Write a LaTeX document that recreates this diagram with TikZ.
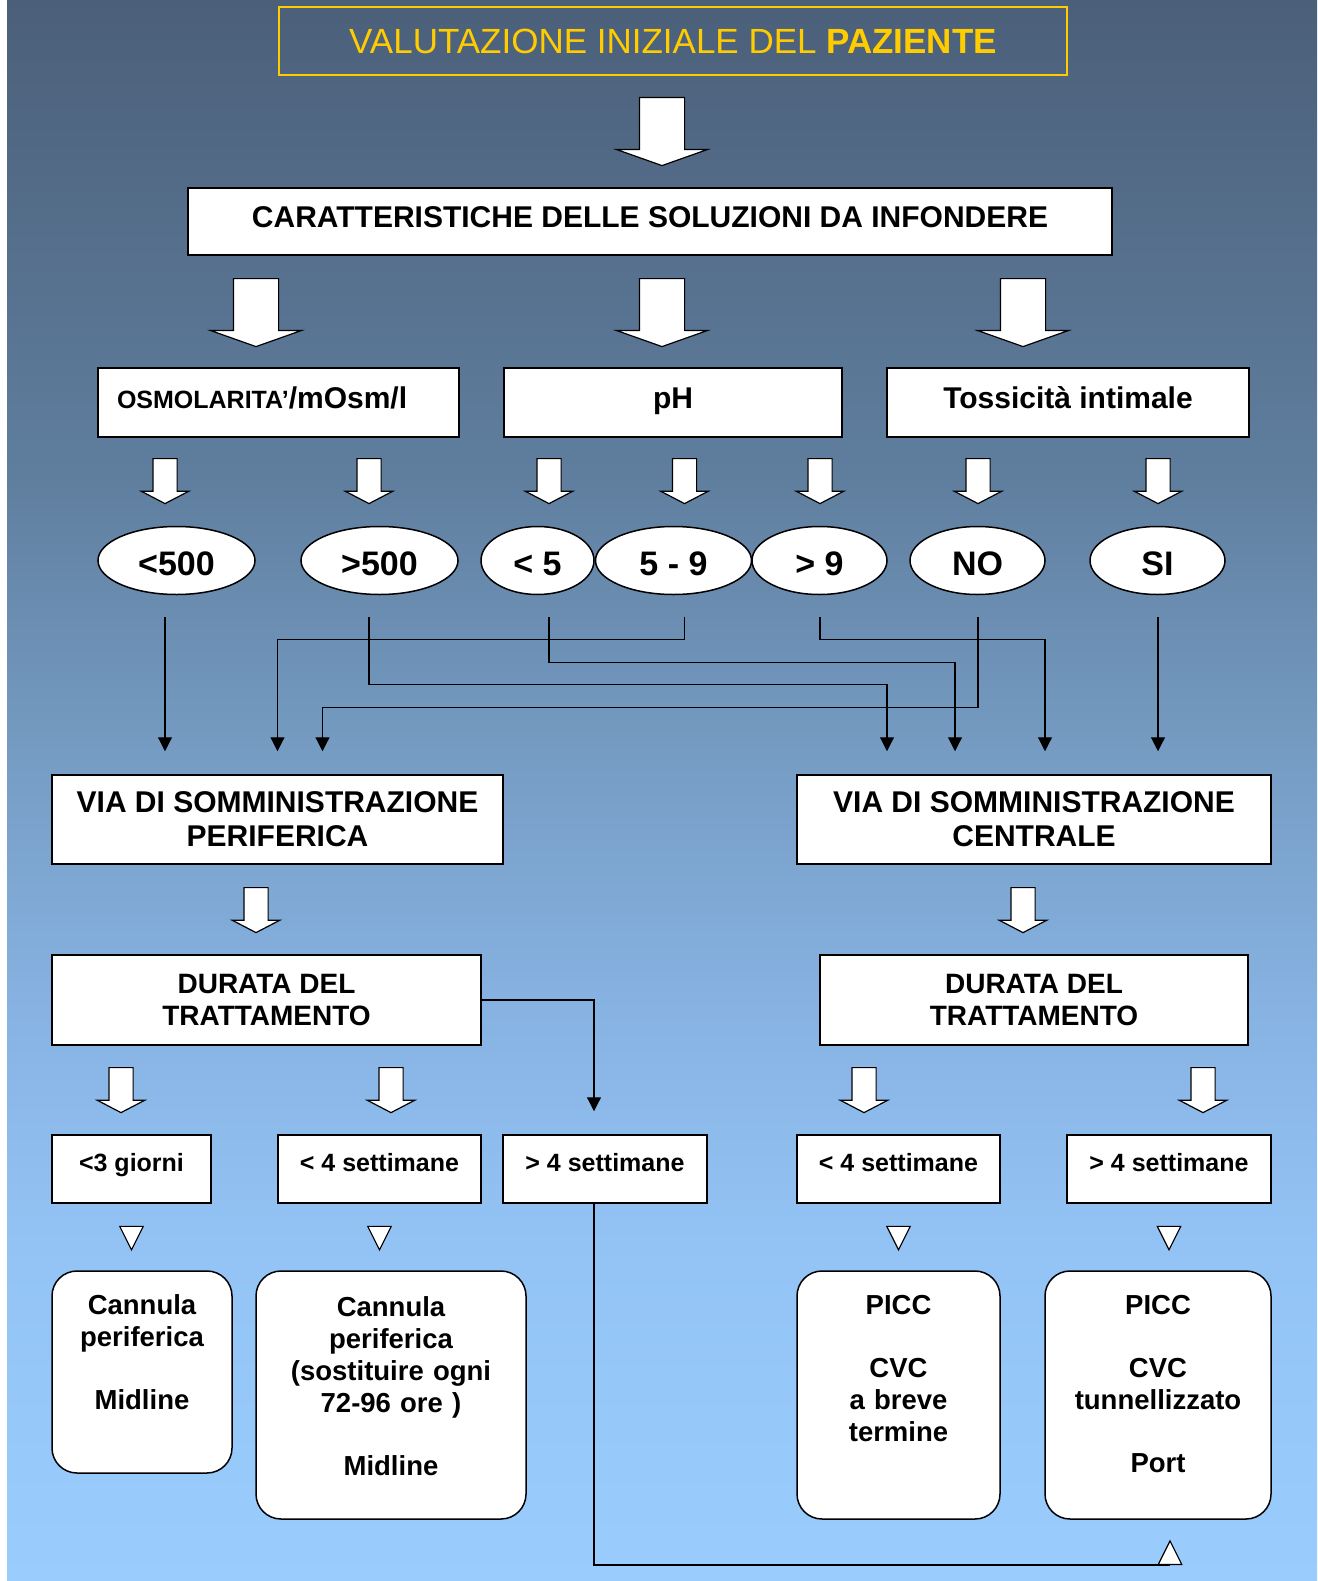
\documentclass[tikz,border=0pt]{standalone}
\usepackage{fontspec}
\setmainfont{Liberation Sans}
\usetikzlibrary{arrows.meta, positioning, shapes.geometric, shapes.arrows}
\definecolor{Gold}{RGB}{255, 204, 0}
\definecolor{bgA}{RGB}{75, 95, 121}
\definecolor{bgB}{RGB}{95, 126, 158}
\definecolor{bgC}{RGB}{117, 155, 194}
\definecolor{bgD}{RGB}{136, 180, 228}
\definecolor{bgE}{RGB}{148, 196, 246}
\definecolor{bgF}{RGB}{154, 204, 254}
\pgfdeclareverticalshading{bgshade}{100bp}{color(0bp)=(bgF); color(25bp)=(bgF);
    color(35bp)=(bgE); color(42.5bp)=(bgD); color(51.5bp)=(bgC);
    color(60bp)=(bgB); color(75bp)=(bgA); color(100bp)=(bgA)}

\begin{document}
\begin{tikzpicture}[
    x=1pt, y=-1pt,
    titlebox/.style={
        draw=Gold, line width=1.5pt, text=Gold, inner sep=0pt,
        font=\fontsize{35pt}{40pt}\selectfont
    },
    box/.style={
        draw, line width=1.5pt, fill=white, inner sep=0pt,
        text height=21.5pt, text depth=9pt,
        font=\fontsize{30pt}{34pt}\selectfont\bfseries
    },
    twobox/.style={
        draw, line width=1.5pt, fill=white, inner sep=0pt, align=center,
        font=\fontsize{30pt}{34pt}\selectfont\bfseries
    },
    gbox/.style={
        box, minimum height=68pt, text height=18pt, text depth=14pt,
        font=\fontsize{25pt}{30pt}\selectfont\bfseries
    },
    fbox/.style={
        draw, line width=1.5pt, fill=white, rounded corners=25pt,
        inner sep=0pt, align=center,
        font=\fontsize{27.5pt}{32pt}\selectfont\bfseries
    },
    oval/.style={
        ellipse, draw, line width=1.5pt, fill=white, inner sep=0pt,
        minimum height=68pt, text height=30pt, text depth=0pt,
        font=\fontsize{34pt}{40pt}\selectfont\bfseries
    },
    bigarrow/.style={
        single arrow, draw, line width=1.2pt, fill=white, inner sep=22pt,
        shape border rotate=270, anchor=tail,
        minimum height=68pt, minimum width=90pt,
        single arrow head extend=23pt, single arrow tip angle=141
    },
    smallarrow/.style={
        bigarrow, inner sep=11.5pt, minimum height=45pt, minimum width=46pt,
        single arrow head extend=11.5pt, single arrow tip angle=125
    },
    tri/.style={
        isosceles triangle, isosceles triangle stretches, draw,
        line width=1.2pt, fill=white, inner sep=0pt,
        minimum width=23.5pt, minimum height=23.5pt, shape border rotate=270
    },
    arr/.style={-{Triangle[length=14pt, width=14pt]}, line width=1.2pt},
    gap/.style={shorten <=22pt, shorten >=23pt},
    wire/.style={line width=1.2pt},
]

%% background
\useasboundingbox (0,0) rectangle (1317,1581);
\shade[shading=bgshade] (7,0) rectangle (1317,1581);

%% Title
\node[titlebox, minimum width=788pt, minimum height=68pt] (title) at (673,41)
    {VALUTAZIONE INIZIALE DEL \textbf{PAZIENTE}};
\node[bigarrow] (a0) at (662,97) {};

%% Caratteristiche
\node[box, minimum width=924pt, minimum height=67pt] (sol) at (650,221.5)
    {CARATTERISTICHE DELLE SOLUZIONI DA INFONDERE};
\node[bigarrow] (a1) at (256,278) {};
\node[bigarrow] (a2) at (662,278) {};
\node[bigarrow] (a3) at (1023,278) {};

\node[box, minimum width=361pt, minimum height=69pt, text width=323pt, align=left] (osmo)
    at (278.5,402.5) {{\fontsize{25pt}{30pt}\selectfont OSMOLARITA’}/mOsm/l};
\node[box, minimum width=338pt, minimum height=69pt] (ph) at (673,402.5) {pH};
\node[box, minimum width=362pt, minimum height=69pt] (tox) at (1068,402.5)
    {Tossicità intimale};

\node[smallarrow] (s1) at (165,458) {};
\node[smallarrow] (s2) at (369,458) {};
\node[smallarrow] (s3) at (549,458) {};
\node[smallarrow] (s4) at (684.5,458) {};
\node[smallarrow] (s5) at (820,458) {};
\node[smallarrow] (s6) at (978,458) {};
\node[smallarrow] (s7) at (1158,458) {};

%% Values
\node[oval, minimum width=157pt] (e1) at (176.5,560.5) {<500};
\node[oval, minimum width=157pt] (e2) at (379.5,560.5) {>500};
\node[oval, minimum width=113pt] (e3) at (537.5,560.5) {< 5};
\node[oval, minimum width=156pt] (e4) at (673.5,560.5) {5 - 9};
\node[oval, minimum width=135pt] (e5) at (819.5,560.5) {> 9};
\node[oval, minimum width=135pt] (e6) at (977.5,560.5) {NO};
\node[oval, minimum width=135pt] (e7) at (1157.5,560.5) {SI};

%% Vie di somministrazione
\node[twobox, minimum width=451pt, minimum height=89pt] (peri) at (277.5,819.5)
    {VIA DI SOMMINISTRAZIONE\\PERIFERICA};
\node[twobox, minimum width=474pt, minimum height=89pt] (cent) at (1034,819.5)
    {VIA DI SOMMINISTRAZIONE\\CENTRALE};

\draw[arr, gap] (s1.tip |- e1.south) -- (s1.tip |- peri.north);
\draw[arr, gap] (s4.tip |- e4.south) -- ++(0,44) -| (peri.north);
\draw[arr, gap] (s6.tip |- e6.south) -- ++(0,112) -| ([xshift=45pt]peri.north);
\draw[arr, gap] (s2.tip |- e2.south) -- ++(0,89) -| ([xshift=-147pt]cent.north);
\draw[arr, gap] (s3.tip |- e3.south) -- ++(0,67) -| ([xshift=-79pt]cent.north);
\draw[arr, gap] (s5.tip |- e5.south) -- ++(0,44) -| ([xshift=11pt]cent.north);
\draw[arr, gap] (s7.tip |- e7.south) -- (s7.tip |- cent.north);

\node[smallarrow] (m1) at (256,887) {};
\node[smallarrow] (m2) at (1023,887) {};

%% Durata
\node[twobox, minimum width=429pt, minimum height=90pt,
    font=\fontsize{28pt}{32pt}\selectfont\bfseries] (dur1) at (266.5,1000)
    {DURATA DEL\\TRATTAMENTO};
\node[twobox, minimum width=428pt, minimum height=90pt,
    font=\fontsize{28pt}{32pt}\selectfont\bfseries] (dur2) at (1034,1000)
    {DURATA DEL\\TRATTAMENTO};

\node[smallarrow] (d1) at (121,1067) {};
\node[smallarrow] (d2) at (391,1067) {};
\node[smallarrow] (d3) at (864,1067) {};
\node[smallarrow] (d4) at (1203,1067) {};

\node[gbox, minimum width=159pt] (g1) at (131.5,1169) {<3 giorni};
\node[gbox, minimum width=203pt] (g2) at (379.5,1169) {< 4 settimane};
\node[gbox, minimum width=204pt] (g3) at (605,1169) {> 4 settimane};
\node[gbox, minimum width=203pt] (g4) at (898.5,1169) {< 4 settimane};
\node[gbox, minimum width=204pt] (g5) at (1169,1169) {> 4 settimane};

\draw[arr, shorten >=23pt] (dur1.east) -| ([xshift=-11pt]g3.north);

\node[tri, below=22pt of g1] (t1) {};
\node[tri, below=22pt of g2] (t2) {};
\node[tri, below=22pt of g4] (t3) {};
\node[tri, below=22pt of g5] (t4) {};

%% Dispositivi
\node[fbox, text width=180pt, text height=43pt, text depth=159pt] (f1)
    at (142,1372) {Cannula\\periferica\\[31pt]Midline};
\node[fbox, text width=270pt, text height=45pt, text depth=203pt] (f2)
    at (391,1395) {Cannula\\periferica\\(sostituire ogni\\72-96 ore )\\[31pt]Midline};
\node[fbox, text width=203pt, text height=43pt, text depth=205pt] (f3)
    at (898.5,1395) {PICC\\[31pt]CVC\\a breve\\termine};
\node[fbox, text width=226pt, text height=43pt, text depth=205pt] (f4)
    at (1158,1395) {PICC\\[31pt]CVC\\tunnellizzato\\[31pt]Port};

\node[tri, shape border rotate=90, anchor=lower side] (t5) at (1170,1565) {};
\draw[wire] ([xshift=-11pt]g3.south) |- (t5.lower side);

\end{tikzpicture}
\end{document}
